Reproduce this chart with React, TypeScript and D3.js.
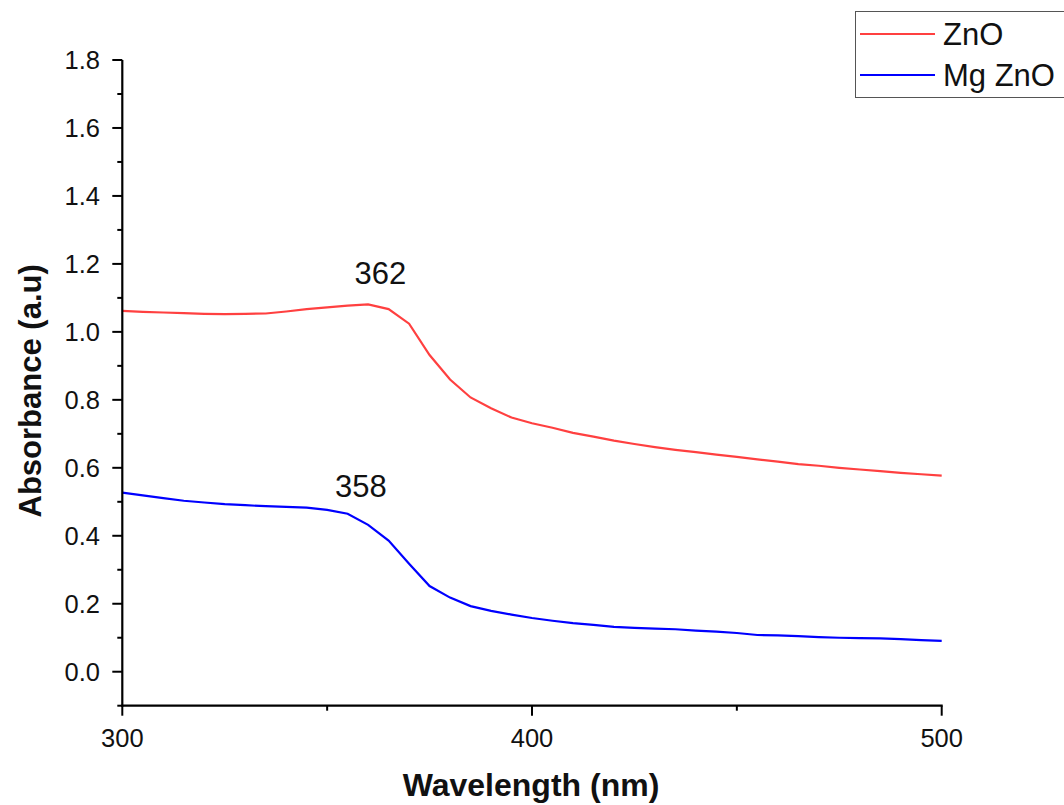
import React from 'react';
import * as d3 from 'd3';

const wavelengths = [
  300, 305, 310, 315, 320, 325, 330, 335, 340, 345, 350, 355, 360, 365, 370, 375, 380, 385, 390, 395,
  400, 405, 410, 415, 420, 425, 430, 435, 440, 445, 450, 455, 460, 465, 470, 475, 480, 485, 490, 495, 500,
];
const znoValues = [
  1.062, 1.059, 1.057, 1.055, 1.053, 1.052, 1.053, 1.054, 1.06, 1.067, 1.072, 1.077, 1.081, 1.067, 1.024,
  0.932, 0.86, 0.807, 0.775, 0.748, 0.731, 0.718, 0.703, 0.692, 0.68, 0.67, 0.661, 0.653, 0.646, 0.639,
  0.632, 0.625, 0.618, 0.611, 0.606, 0.6, 0.595, 0.59, 0.585, 0.581, 0.577,
];
const mgZnoValues = [
  0.527, 0.519, 0.511, 0.503, 0.498, 0.493, 0.49, 0.487, 0.485, 0.483, 0.476, 0.465, 0.432, 0.386, 0.318,
  0.252, 0.218, 0.193, 0.179, 0.168, 0.158, 0.15, 0.143, 0.138, 0.132, 0.129, 0.127, 0.125, 0.121, 0.118,
  0.114, 0.108, 0.107, 0.105, 0.102, 0.1, 0.099, 0.098, 0.096, 0.093, 0.091,
];
const seriesNames = ['ZnO', 'Mg ZnO'];
const seriesColors = ['#FF4040', '#0000FF'];
const peakLabels = [
  { text: '362', x: 362, y: 1.076, series: 0 },
  { text: '358', x: 358, y: 0.45, series: 1 },
];
const xMajorTicks = [300, 400, 500];
const xMinorTicks = [350, 450];
const yMajorTicks = [0, 0.2, 0.4, 0.6, 0.8, 1.0, 1.2, 1.4, 1.6, 1.8];
const yMinorTicks = [-0.1, 0.1, 0.3, 0.5, 0.7, 0.9, 1.1, 1.3, 1.5, 1.7];

const W = 1064;
const H = 805;
const font = 'Arial, "Liberation Sans", sans-serif';

const App = () => {
  const x = d3.scaleLinear().domain([300, 500]).range([122.3, 941.7]);
  const y = d3.scaleLinear().domain([-0.1, 1.8]).range([705.7, 60]);
  const line = d3
    .line<number>()
    .x((_, i) => x(wavelengths[i]))
    .y((d) => y(d));
  const series = [znoValues, mgZnoValues];

  const x0 = x.range()[0];
  const yBottom = y.range()[0];

  return (
    <div style={{ position: 'absolute', left: 0, top: 0 }}>
      <svg width={W} height={H} style={{ display: 'block', background: '#fff' }}>
        {series.map((vals, i) => (
          <path key={i} d={line(vals) || ''} fill="none" stroke={seriesColors[i]} strokeWidth={2.2} />
        ))}

        {/* axes */}
        <line x1={x0} x2={x0} y1={y(1.8)} y2={yBottom + 1} stroke="#000" strokeWidth={2.2} />
        <line x1={x0 - 1} x2={x.range()[1] + 1} y1={yBottom} y2={yBottom} stroke="#000" strokeWidth={2.2} />

        {yMajorTicks.map((t) => (
          <g key={`ym${t}`}>
            <line x1={x0 - 10} x2={x0} y1={y(t)} y2={y(t)} stroke="#000" strokeWidth={2} />
            <text x={100} y={y(t)} dy="0.36em" textAnchor="end" fontSize={25.5} fontFamily={font} fill="#111">
              {t.toFixed(1)}
            </text>
          </g>
        ))}
        {yMinorTicks.map((t) => (
          <line key={`yn${t}`} x1={x0 - 5} x2={x0} y1={y(t)} y2={y(t)} stroke="#000" strokeWidth={2} />
        ))}
        {xMajorTicks.map((t) => (
          <g key={`xm${t}`}>
            <line x1={x(t)} x2={x(t)} y1={yBottom} y2={yBottom + 10} stroke="#000" strokeWidth={2} />
            <text x={x(t)} y={747} textAnchor="middle" fontSize={25.5} fontFamily={font} fill="#111">
              {t}
            </text>
          </g>
        ))}
        {xMinorTicks.map((t) => (
          <line key={`xn${t}`} x1={x(t)} x2={x(t)} y1={yBottom} y2={yBottom + 5} stroke="#000" strokeWidth={2} />
        ))}

        {/* axis titles */}
        <text
          transform={`translate(41, ${(y(1.8) + yBottom) / 2 + 8}) rotate(-90)`}
          textAnchor="middle"
          fontSize={31}
          fontWeight="bold"
          fontFamily={font}
          fill="#111"
        >
          Absorbance (a.u)
        </text>
        <text x={531} y={796} textAnchor="middle" fontSize={32} fontWeight="bold" fontFamily={font} fill="#111">
          Wavelength (nm)
        </text>

        {/* peak labels */}
        {peakLabels.map((p) => (
          <text
            key={p.text}
            x={x(p.x) + (p.series === 0 ? 4 : 1)}
            y={y(p.y) - 22}
            textAnchor="middle"
            fontSize={31}
            fontFamily={font}
            fill="#111"
          >
            {p.text}
          </text>
        ))}

        {/* legend */}
        <rect x={855.5} y={11.5} width={220} height={86} fill="#fff" stroke="#555" strokeWidth={1} />
        {seriesNames.map((n, i) => (
          <g key={n}>
            <line x1={860} x2={935} y1={34 + i * 41} y2={34 + i * 41} stroke={seriesColors[i]} strokeWidth={2.2} />
            <text x={943} y={45 + i * 41} fontSize={31} fontFamily={font} fill="#111">
              {n}
            </text>
          </g>
        ))}
      </svg>
    </div>
  );
};

export default App;
